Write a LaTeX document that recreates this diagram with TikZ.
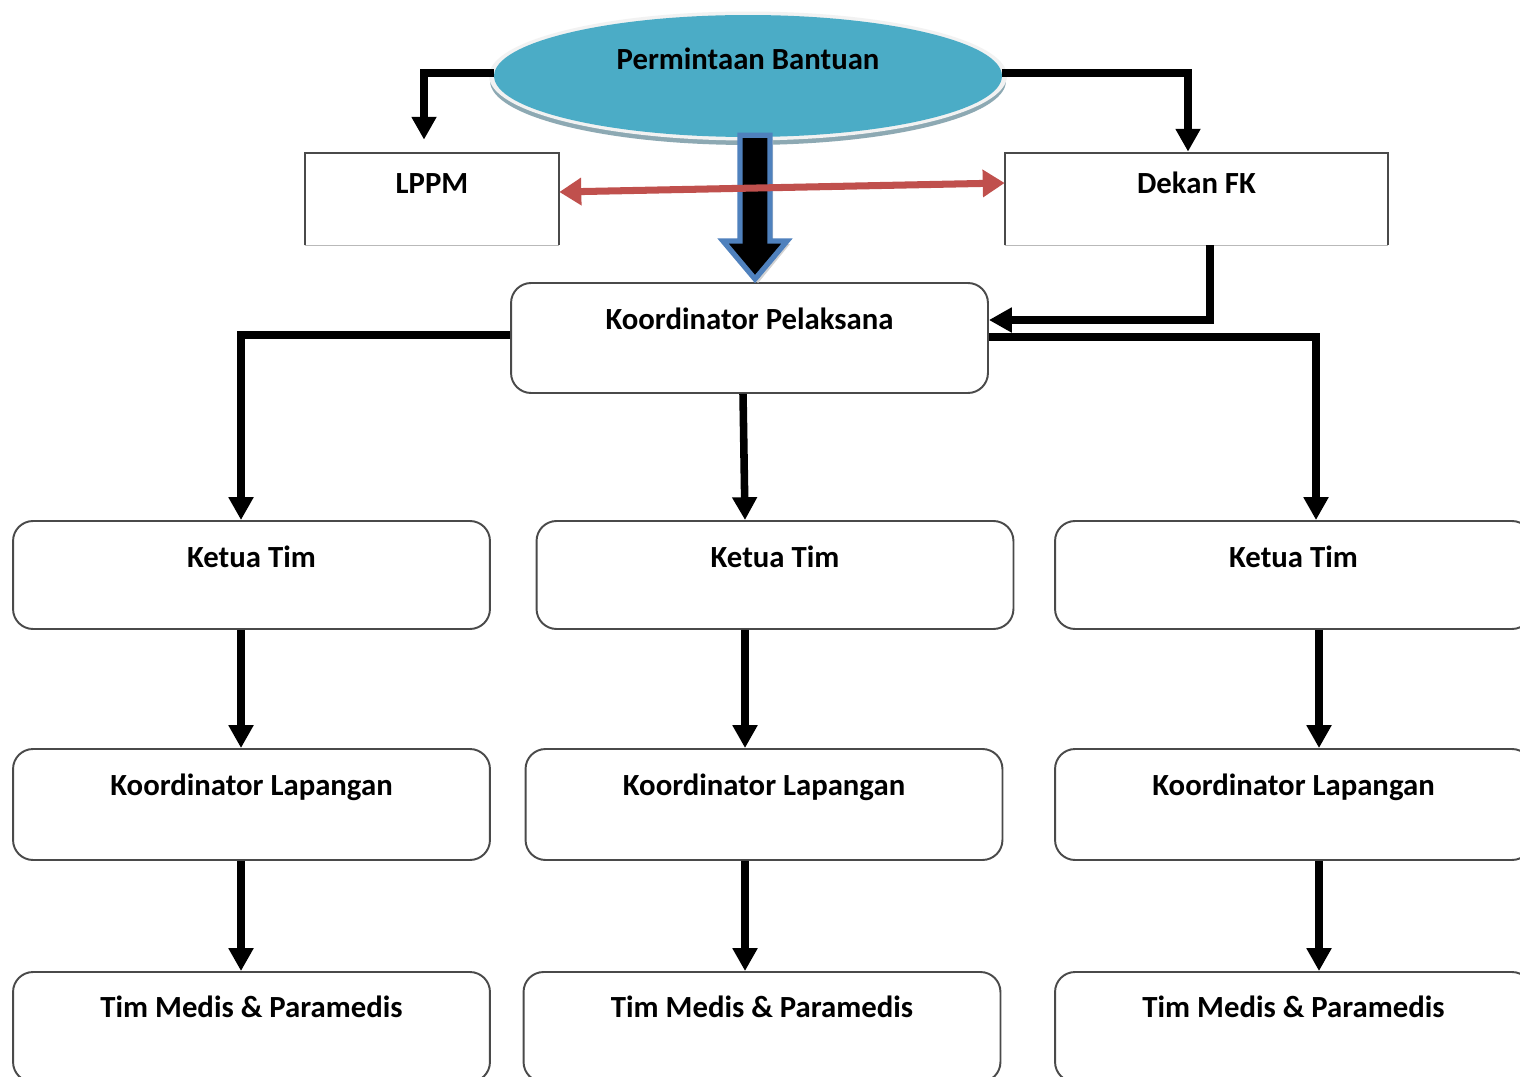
\documentclass[tikz,border=0pt]{standalone}
\usepackage{fontspec}
\setmainfont{Carlito}
\usetikzlibrary{shapes.geometric,arrows.meta,calc}
\definecolor{aqua}{HTML}{4BACC6}
\definecolor{redarr}{HTML}{C0504D}
\definecolor{bluearr}{HTML}{4F81BD}
\definecolor{boxline}{HTML}{4A4A4A}
\definecolor{rimshadow}{HTML}{8DA9B3}
\definecolor{rimwhite}{HTML}{F2F2F2}
\begin{document}
\begin{tikzpicture}[x=0.02cm,y=-0.02cm,
  txt/.style={font=\bfseries\fontsize{17.5}{20}\selectfont},
  rbox/.style={txt, draw=boxline, line width=1.1pt, rounded corners=0.4cm,
     minimum width=9.54cm, inner xsep=0pt, inner ysep=0pt},
  sqbox/.style={txt, draw=none, inner xsep=0pt, inner ysep=0pt,
     text height=0.82cm, text depth=1.02cm},
  conn/.style={line width=4.3pt, -{Triangle[width=13.5pt,length=13pt]}},
  redconn/.style={redarr, line width=4pt, {Triangle[width=15pt,length=12.5pt]}-{Triangle[width=15pt,length=12.5pt]}},
]
\fill[white] (0,0) rectangle (1520,1077);
\useasboundingbox (0,0) rectangle (1520,1077);
\clip (0,0) rectangle (1520,1077);

% ---- top ellipse
\fill[rimshadow] (748,81) ellipse [x radius=5.16cm, y radius=1.28cm];
\fill[rimwhite] (748,76) ellipse [x radius=5.18cm, y radius=1.29cm];
\node[ellipse, fill=aqua, minimum width=10.16cm, minimum height=2.44cm, inner sep=0pt] (perm) at (748,76) {};
\node[txt, anchor=base, inner sep=0pt] (permt) at (748,70) {Permintaan Bantuan};

% ---- LPPM and Dekan FK
\node[sqbox, minimum width=5.08cm] (lppm) at (432,199) {LPPM};
\node[sqbox, minimum width=7.66cm] (dekan) at (1196.5,199) {Dekan FK};
\foreach \b in {lppm,dekan}{
  \draw[boxline, line width=1.1pt] (\b.south west) -- (\b.north west) -- (\b.north east) -- (\b.south east);
  \draw[gray!55, line width=0.6pt] (\b.south west) -- (\b.south east);
}

% ---- Koordinator Pelaksana
\node[rbox, text height=0.94cm, text depth=1.26cm] (kp) at (749.5,338) {Koordinator Pelaksana};

% ---- Ketua Tim row
\node[rbox, text height=0.92cm, text depth=1.24cm] (k1) at (251.5,575) {Ketua Tim};
\node[rbox, text height=0.92cm, text depth=1.24cm] (k2) at (775,575) {Ketua Tim};
\node[rbox, text height=0.92cm, text depth=1.24cm] (k3) at (1293.5,575) {Ketua Tim};

% ---- Koordinator Lapangan row
\node[rbox, text height=0.92cm, text depth=1.3cm] (l1) at (251.5,804.5) {Koordinator Lapangan};
\node[rbox, text height=0.92cm, text depth=1.3cm] (l2) at (764,804.5) {Koordinator Lapangan};
\node[rbox, text height=0.92cm, text depth=1.3cm] (l3) at (1293.5,804.5) {Koordinator Lapangan};

% ---- Tim Medis row
\node[rbox, text height=0.9cm, text depth=1.3cm] (m1) at (251.5,1027) {Tim Medis \& Paramedis};
\node[rbox, text height=0.9cm, text depth=1.3cm] (m2) at (762,1027) {Tim Medis \& Paramedis};
\node[rbox, text height=0.9cm, text depth=1.3cm] (m3) at (1293.5,1027) {Tim Medis \& Paramedis};

% ---- connectors from ellipse
\draw[conn, line width=4.6pt] ([yshift=0.06cm]perm.west) -| ([xshift=-0.16cm,yshift=0.26cm]lppm.north);
\draw[conn, line width=4.6pt] ([yshift=0.06cm]perm.east) -| ([xshift=-0.17cm,yshift=0.02cm]dekan.north);

% ---- block arrow ellipse -> Koordinator Pelaksana
\coordinate (bt) at ([xshift=0.14cm,yshift=0.04cm]perm.south);
\coordinate (bh) at ([xshift=0.11cm,yshift=0.06cm]kp.north);
\fill[gray!35] ($(bt)+(3,4)$) -- ++(15,0) |- ($(bh)+(35,-35)$) -- ($(bh)+(3,4)$) -- ($(bh)+(-29,-35)$) -| ($(bt)+(-12,4)$) -- cycle;
\filldraw[fill=black, draw=bluearr, line width=3pt, line join=miter]
  ($(bt)+(-15,0)$) -- ($(bt)+(15,0)$) -- ($(bh)+(15,-38)$) -- ($(bh)+(32,-38)$) -- (bh)
  -- ($(bh)+(-32,-38)$) -- ($(bh)+(-15,-38)$) -- cycle;

% ---- red double arrow
\draw[redconn] ([yshift=0.14cm]lppm.east) -- ([yshift=0.32cm]dekan.west);

% ---- Dekan FK -> Koordinator Pelaksana
\draw[conn] ([xshift=0.27cm]dekan.south) |- ([yshift=0.36cm]kp.east);

% ---- Koordinator Pelaksana -> Ketua Tim
\draw[conn] ([yshift=0.06cm]kp.west) -| ([xshift=-0.21cm]k1.north);
\draw[conn] ([yshift=0.02cm]kp.east) -| ([xshift=0.45cm]k3.north);
\draw[conn] ([xshift=-0.13cm]kp.south) -- ([xshift=-0.6cm]k2.north);

% ---- Ketua Tim -> Koordinator Lapangan
\draw[conn] ([xshift=-0.21cm]k1.south) -- ([xshift=-0.21cm]l1.north);
\draw[conn] ([xshift=-0.6cm]k2.south) -- ([xshift=-0.38cm]l2.north);
\draw[conn] ([xshift=0.51cm]k3.south) -- ([xshift=0.51cm]l3.north);

% ---- Koordinator Lapangan -> Tim Medis
\draw[conn] ([xshift=-0.21cm]l1.south) -- ([xshift=-0.21cm]m1.north);
\draw[conn] ([xshift=-0.38cm]l2.south) -- ([xshift=-0.34cm]m2.north);
\draw[conn] ([xshift=0.51cm]l3.south) -- ([xshift=0.51cm]m3.north);
\end{tikzpicture}
\end{document}
